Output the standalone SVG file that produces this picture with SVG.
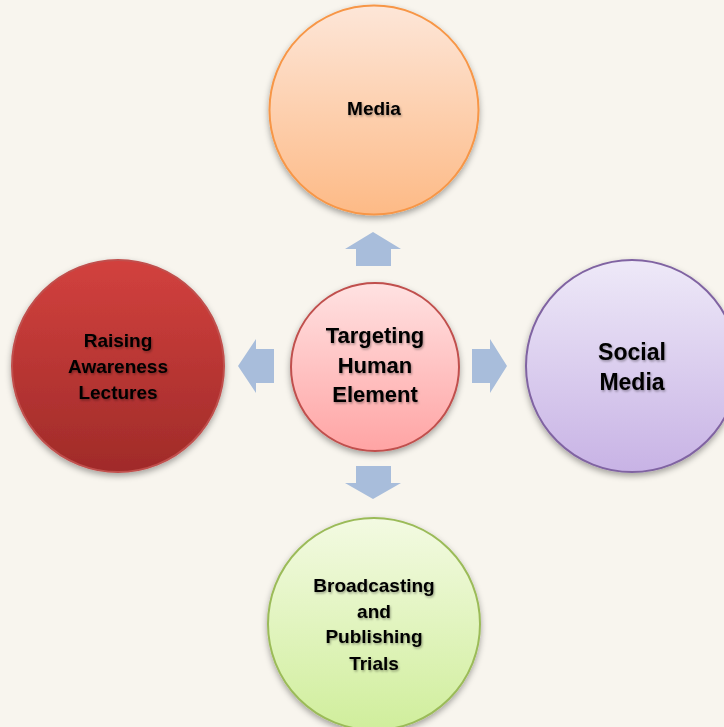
<svg xmlns="http://www.w3.org/2000/svg" width="724" height="727" viewBox="0 0 724 727">
<defs>
<linearGradient id="gOrange" x1="0" y1="0" x2="0" y2="1"><stop offset="0" stop-color="#FDE6D8"/><stop offset="1" stop-color="#FDBA86"/></linearGradient>
<linearGradient id="gPink" x1="0" y1="0" x2="0" y2="1"><stop offset="0" stop-color="#FFE2E2"/><stop offset="1" stop-color="#FFA4A4"/></linearGradient>
<linearGradient id="gPurple" x1="0" y1="0" x2="0" y2="1"><stop offset="0" stop-color="#EEE9F8"/><stop offset="1" stop-color="#C8B3E5"/></linearGradient>
<linearGradient id="gRed" x1="0" y1="0" x2="0" y2="1"><stop offset="0" stop-color="#D2413E"/><stop offset="1" stop-color="#A02B29"/></linearGradient>
<linearGradient id="gGreen" x1="0" y1="0" x2="0" y2="1"><stop offset="0" stop-color="#F3FAE2"/><stop offset="1" stop-color="#D0EE9C"/></linearGradient>
<filter id="sh" x="-20%" y="-20%" width="140%" height="150%"><feDropShadow dx="0" dy="3" stdDeviation="3" flood-color="#000" flood-opacity="0.35"/></filter>
<filter id="tsh" x="-10%" y="-10%" width="120%" height="130%"><feDropShadow dx="1" dy="1.5" stdDeviation="1" flood-color="#000" flood-opacity="0.35"/></filter>
</defs>
<style>
.lbl{font-family:"Liberation Sans",Arial,sans-serif;font-weight:bold;fill:#000;text-anchor:middle;filter:url(#tsh)}
.arrow{fill:#A8BDDB}
circle,ellipse{stroke-width:2;filter:url(#sh)}
</style>
<rect width="724" height="727" fill="#F8F5EE"/>
<g id="connectors">
<polygon class="arrow" points="373,232 401,249 391,249 391,266 356,266 356,249 345,249"/>
<polygon class="arrow" points="373,499 401,483 391,483 391,466 356,466 356,483 345,483"/>
<polygon class="arrow" points="238,366 256,339 256,349 274,349 274,383 256,383 256,393"/>
<polygon class="arrow" points="507,366 490,339 490,349 472,349 472,383 490,383 490,393"/>
</g>
<g id="media">
<circle cx="374" cy="110" r="104.5" fill="url(#gOrange)" stroke="#F79646"/>
<text class="lbl" x="374" y="115" font-size="19">Media</text>
</g>
<g id="center">
<circle cx="375" cy="367" r="84" fill="url(#gPink)" stroke="#C0504D"/>
<text class="lbl" x="375" y="343" font-size="22">Targeting</text>
<text class="lbl" x="375" y="373" font-size="22">Human</text>
<text class="lbl" x="375" y="402" font-size="22">Element</text>
</g>
<g id="social">
<circle cx="632" cy="366" r="106" fill="url(#gPurple)" stroke="#8064A2"/>
<text class="lbl" x="632" y="360" font-size="23">Social</text>
<text class="lbl" x="632" y="390" font-size="23">Media</text>
</g>
<g id="lectures">
<circle cx="118" cy="366" r="106" fill="url(#gRed)" stroke="#C0504D"/>
<text class="lbl" x="118" y="347" font-size="19">Raising</text>
<text class="lbl" x="118" y="373" font-size="19">Awareness</text>
<text class="lbl" x="118" y="399" font-size="19">Lectures</text>
</g>
<g id="broadcasting">
<circle cx="374" cy="624" r="106" fill="url(#gGreen)" stroke="#9BBB59"/>
<text class="lbl" x="374" y="592" font-size="19">Broadcasting</text>
<text class="lbl" x="374" y="618" font-size="19">and</text>
<text class="lbl" x="374" y="643" font-size="19">Publishing</text>
<text class="lbl" x="374" y="670" font-size="19">Trials</text>
</g>
</svg>
